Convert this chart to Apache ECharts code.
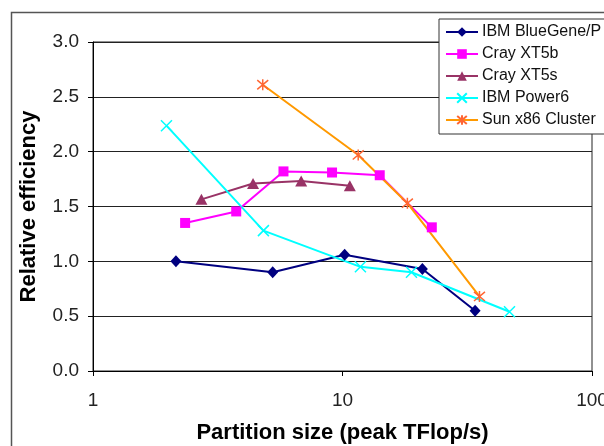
<!DOCTYPE html>
<html><head><meta charset="utf-8">
<script src="https://cdn.jsdelivr.net/npm/echarts@6/dist/echarts.min.js"></script>
<style>html,body{margin:0;padding:0;background:#fff}#c{width:604px;height:446px}</style>
</head><body><div id="c"></div>
<script>
const seriesNames = ['IBM BlueGene/P', 'Cray XT5b', 'Cray XT5s', 'IBM Power6', 'Sun x86 Cluster'];
const blueGeneX = [2.15, 5.25, 10.2, 20.9, 34];
const blueGeneY = [1.0, 0.9, 1.06, 0.93, 0.55];
const xt5bX = [2.34, 3.75, 5.8, 9.08, 14.1, 22.8];
const xt5bY = [1.35, 1.455, 1.82, 1.81, 1.785, 1.31];
const xt5sX = [2.72, 4.38, 6.83, 10.7];
const xt5sY = [1.565, 1.71, 1.733, 1.69];
const power6X = [1.97, 4.82, 11.8, 18.9, 46.7];
const power6Y = [2.237, 1.28, 0.95, 0.9, 0.54];
const sunX = [4.79, 11.56, 18.2, 35.4];
const sunY = [2.61, 1.97, 1.53, 0.68];
const xTicks = [1, 10, 100];
const yTicks = [0, 0.5, 1.0, 1.5, 2.0, 2.5, 3.0];

const zip = (xs, ys) => xs.map((x, i) => [x, ys[i]]);
const FONT = 'Liberation Sans, Arial, sans-serif';
const crossPath = 'path://M0,0L10,10M10,0L0,10';
const starPath = 'path://M0,0L10,10M10,0L0,10M5,-1L5,11';

const chart = echarts.init(document.getElementById('c'), null, {renderer: 'canvas'});
chart.setOption({
  animation: false,
  backgroundColor: '#fff',
  graphic: [{
    type: 'rect', z: -10, silent: true,
    shape: {x: 11.5, y: 12.5, width: 700, height: 600},
    style: {fill: 'none', stroke: '#555', lineWidth: 1.5}
  }],
  grid: {left: 93, right: 12, top: 42, bottom: 75, outerBoundsMode: 'none', containLabel: false,
    show: true, borderColor: '#222', borderWidth: 1, backgroundColor: 'transparent'},
  legend: {
    left: 439, top: 19, orient: 'vertical',
    backgroundColor: '#fff', borderColor: '#333', borderWidth: 1,
    padding: [5, 12, 6, 6],
    itemWidth: 32, itemHeight: 12, itemGap: 6,
    textStyle: {fontFamily: FONT, fontSize: 16, color: '#111', lineHeight: 14, padding: [0, 0, 0, -1]},
    data: seriesNames
  },
  xAxis: {
    type: 'log', logBase: 10, min: 1, max: 100,
    name: 'Partition size (peak TFlop/s)', nameLocation: 'middle', nameGap: 51,
    nameTextStyle: {fontFamily: FONT, fontSize: 22, fontWeight: 'bold', color: '#000'},
    axisLine: {show: true, lineStyle: {color: '#000', width: 1}},
    axisTick: {show: true, inside: false, length: 5, lineStyle: {color: '#000'}},
    minorTick: {show: false},
    axisLabel: {fontFamily: FONT, fontSize: 19, color: '#222', margin: 20, hideOverlap: false,
      formatter: v => xTicks.includes(Math.round(v)) ? String(Math.round(v)) : ''},
    splitLine: {show: false}
  },
  yAxis: {
    type: 'value', min: 0, max: 3, interval: 0.5,
    name: 'Relative efficiency', nameLocation: 'middle', nameGap: 53,
    nameTextStyle: {fontFamily: FONT, fontSize: 22, fontWeight: 'bold', color: '#000'},
    axisLine: {show: true, lineStyle: {color: '#000', width: 1}},
    axisTick: {show: true, inside: false, length: 5, lineStyle: {color: '#000'}},
    axisLabel: {fontFamily: FONT, fontSize: 19, color: '#222', margin: 14,
      formatter: v => yTicks.find(t => Math.abs(t - v) < 1e-9).toFixed(1)},
    splitLine: {show: true, lineStyle: {color: '#222', width: 1}}
  },
  series: [
    {name: seriesNames[0], type: 'line', data: zip(blueGeneX, blueGeneY),
     symbol: 'diamond', symbolSize: [11, 12],
     lineStyle: {color: '#000080', width: 2}, itemStyle: {color: '#000080'}},
    {name: seriesNames[1], type: 'line', data: zip(xt5bX, xt5bY),
     symbol: 'rect', symbolSize: 10,
     lineStyle: {color: '#FF00FF', width: 2}, itemStyle: {color: '#FF00FF'}},
    {name: seriesNames[2], type: 'line', data: zip(xt5sX, xt5sY),
     symbol: 'triangle', symbolSize: [12, 11],
     lineStyle: {color: '#993366', width: 2}, itemStyle: {color: '#993366'}},
    {name: seriesNames[3], type: 'line', data: zip(power6X, power6Y),
     symbol: crossPath, symbolSize: 11,
     lineStyle: {color: '#00FFFF', width: 2},
     itemStyle: {color: '#00FFFF', borderColor: '#00FFFF', borderWidth: 1.5}},
    {name: seriesNames[4], type: 'line', data: zip(sunX, sunY),
     symbol: starPath, symbolSize: 11,
     lineStyle: {color: '#FF9900', width: 2},
     itemStyle: {color: '#FF6633', borderColor: '#FF6633', borderWidth: 1.5}}
  ]
});
</script></body></html>
